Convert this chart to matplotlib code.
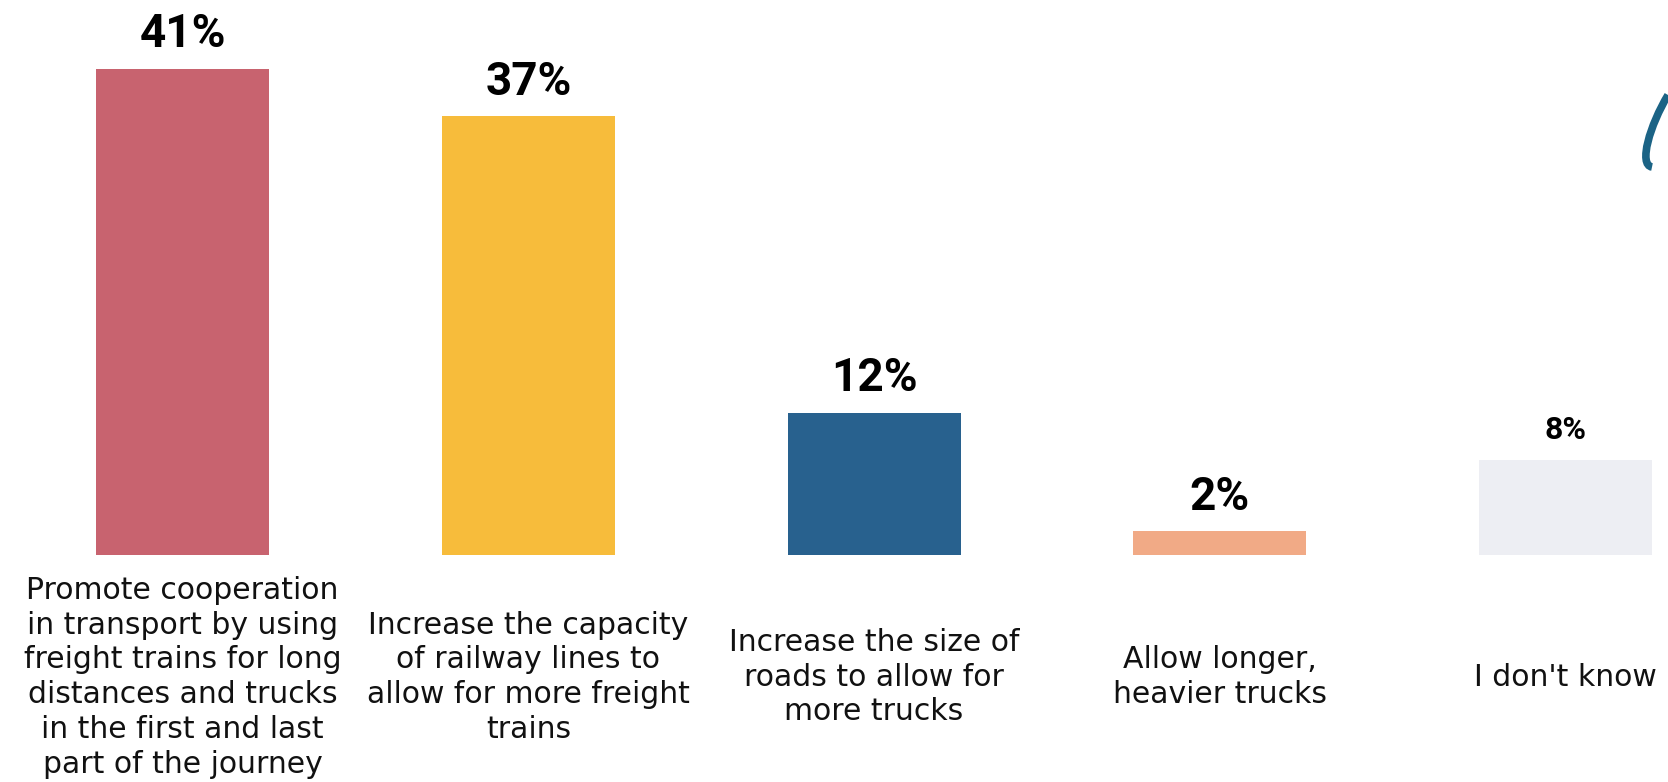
import matplotlib
matplotlib.use("Agg")
import matplotlib.pyplot as plt
from matplotlib.path import Path
from matplotlib.patches import PathPatch

# data
categories = [
    "Promote cooperation\nin transport by using\nfreight trains for long\ndistances and trucks\nin the first and last\npart of the journey",
    "Increase the capacity\nof railway lines to\nallow for more freight\ntrains",
    "Increase the size of\nroads to allow for\nmore trucks",
    "Allow longer,\nheavier trucks",
    "I don't know",
]
values = [41, 37, 12, 2, 8]
value_labels = ["41%", "37%", "12%", "2%", "8%"]
colors = ["#C8636F", "#F7BC3B", "#28618E", "#F1AA86", "#EDEEF3"]
label_sizes = [33, 33, 33, 33, 23]

W, H, DPI = 1668, 782, 100
fig = plt.figure(figsize=(W / DPI, H / DPI), dpi=DPI)
ax = fig.add_axes([0, 0, 1, 1])

x = list(range(len(values)))
ax.bar(x, values, width=0.5, color=colors)

for xi, v, lab, fs in zip(x, values, value_labels, label_sizes):
    ax.text(xi, v + 1.8, lab, ha="center", va="baseline",
            fontsize=fs, fontweight="bold", family="Roboto", color="black")

for xi, cat in zip(x, categories):
    ax.text(xi, -10.3, cat, ha="center", va="center", fontsize=21.5,
            family="DejaVu Sans", color="#111111", linespacing=1.25)

ax.set_xlim(-0.528, 4.296)
ax.set_ylim(-19.14, 46.8)
ax.axis("off")

# decorative curve cut off at the top right edge (pixel coords)
pts = [(1668, 95), (1650, 125), (1638, 165), (1652, 167)]
verts = [(px, H - py) for px, py in pts]
curve = Path(verts, [Path.MOVETO, Path.CURVE4, Path.CURVE4, Path.CURVE4])
fig.add_artist(PathPatch(curve, transform=None, fill=False,
                         edgecolor="#1B6385", lw=5.5, capstyle="butt"))

fig.savefig("out.png", dpi=DPI, facecolor="white")
